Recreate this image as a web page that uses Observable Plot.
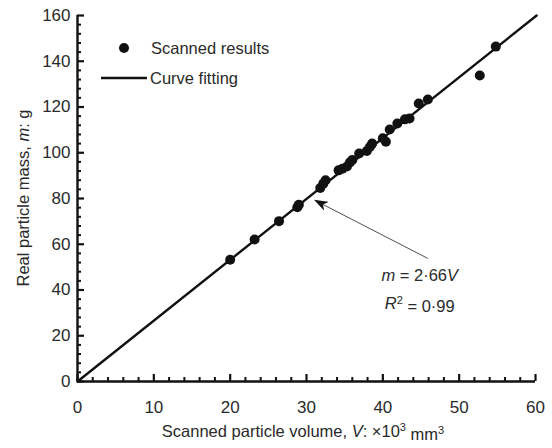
<!DOCTYPE html>
<html>
<head>
<meta charset="utf-8">
<script src="https://cdn.jsdelivr.net/npm/d3@7"></script>
<script src="https://cdn.jsdelivr.net/npm/@observablehq/plot@0.6"></script>
<style>
  html, body { margin: 0; padding: 0; background: #fff; }
  #chart { width: 552px; height: 448px; }
  svg { font-family: "Liberation Sans", Arial, sans-serif; }
</style>
</head>
<body>
<div id="chart"></div>
<script>
// Scanned results (V: x10^3 mm^3, m: g)
const volume = [20.0, 23.2, 26.4, 28.8, 29.0, 31.8, 32.2, 32.5, 34.2, 34.7, 35.3, 35.7, 36.0, 36.9, 37.9, 38.3, 38.6, 40.0, 40.4, 40.9, 41.9, 42.9, 43.5, 44.7, 45.9, 52.7, 54.8];
const mass   = [53.2, 62.1, 70.1, 76.2, 77.3, 84.6, 86.5, 88.0, 92.3, 93.0, 94.0, 95.8, 96.8, 99.7, 100.8, 102.5, 104.0, 106.3, 104.8, 110.2, 112.8, 114.6, 115.0, 121.5, 123.3, 133.8, 146.4];
// Curve fitting m = 2.66 V
const slope = 2.66;
const fitV = [0, 60.15];
// Tick values
const xMajor = [0, 10, 20, 30, 40, 50, 60];
const xMinor = [2, 4, 6, 8, 12, 14, 16, 18, 22, 24, 26, 28, 32, 34, 36, 38, 42, 44, 46, 48, 52, 54, 56, 58];
const yMajor = [0, 20, 40, 60, 80, 100, 120, 140, 160];
const yMinor = [4, 8, 12, 16, 24, 28, 32, 36, 44, 48, 52, 56, 64, 68, 72, 76, 84, 88, 92, 96, 104, 108, 112, 116, 124, 128, 132, 136, 144, 148, 152, 156];
// Annotation arrow (tail -> tip) and equation anchor
const arrowFrom = [45.9, 53.8];
const arrowTo = [31.1, 79.2];
const eqAnchor = [44.9, 46.2];

const points = volume.map((v, i) => ({V: v, m: mass[i]}));
const fit = fitV.map(v => ({V: v, m: slope * v}));
const arrows = [{x1: arrowFrom[0], y1: arrowFrom[1], x2: arrowTo[0], y2: arrowTo[1]}];

const ink = "#111";
const textColor = "#2a2a2a";
const FS = 16.5;

const plot = Plot.plot({
  width: 552,
  height: 448,
  marginLeft: 77,
  marginRight: 17,
  marginTop: 15,
  marginBottom: 67,
  style: {fontFamily: "'Liberation Sans', Arial, sans-serif", fontSize: FS + "px", background: "#fff"},
  x: {domain: [0, 60]},
  y: {domain: [0, 160]},
  marks: [
    // inward tick marks
    Plot.ruleX(xMinor, {x: d => d, y1: () => 0, y2: () => 0, insetTop: -4, stroke: ink, strokeWidth: 2}),
    Plot.ruleX(xMajor, {x: d => d, y1: () => 0, y2: () => 0, insetTop: -7, stroke: ink, strokeWidth: 2.2}),
    Plot.ruleY(yMinor, {y: d => d, x1: () => 0, x2: () => 0, insetRight: -4, stroke: ink, strokeWidth: 2}),
    Plot.ruleY(yMajor, {y: d => d, x1: () => 0, x2: () => 0, insetRight: -7, stroke: ink, strokeWidth: 2.2}),
    Plot.axisX({ticks: xMajor, tickSize: 0, tickPadding: 19, fill: textColor, label: null}),
    Plot.axisY({ticks: yMajor, tickSize: 0, tickPadding: 7, fill: textColor, label: null}),
    Plot.line(fit, {x: "V", y: "m", stroke: ink, strokeWidth: 2.4}),
    Plot.dot(points, {x: "V", y: "m", r: 5, fill: ink, stroke: "none"}),
    Plot.link(arrows, {x1: "x1", y1: "y1", x2: "x2", y2: "y2", stroke: "#222", strokeWidth: 0.8, className: "anno-arrow"}),
    Plot.ruleX([0], {stroke: ink, strokeWidth: 2.4}),
    Plot.ruleY([0], {stroke: ink, strokeWidth: 2.4})
  ]
});

document.getElementById("chart").appendChild(plot);

const svg = d3.select(plot);
svg.selectAll("[aria-label='x-axis tick label'], [aria-label='y-axis tick label']").style("font-size", "17px");

const sx = plot.scale("x"), sy = plot.scale("y");
const x0 = sx.apply(0), x60 = sx.apply(60);
const yTop = sy.apply(160), yBot = sy.apply(0);

// Arrowhead marker
const defs = svg.append("defs");
defs.append("marker")
  .attr("id", "ahead").attr("viewBox", "0 0 14 10").attr("refX", 13).attr("refY", 5)
  .attr("markerWidth", 14).attr("markerHeight", 10).attr("markerUnits", "userSpaceOnUse")
  .attr("orient", "auto")
  .append("path").attr("d", "M0,0L14,5L0,10L4,5Z").attr("fill", ink);
svg.selectAll(".anno-arrow path").attr("marker-end", "url(#ahead)");

const addText = (sel) => sel.style("font-size", FS + "px").attr("fill", textColor);

// Legend
const lg = svg.append("g");
lg.append("circle").attr("cx", 124).attr("cy", 48).attr("r", 5).attr("fill", ink);
addText(lg.append("text").attr("x", 151).attr("y", 48).attr("dy", "0.35em").attr("text-anchor", "start").text("Scanned results"));
lg.append("line").attr("x1", 101).attr("x2", 147).attr("y1", 78).attr("y2", 78).attr("stroke", ink).attr("stroke-width", 2.4);
addText(lg.append("text").attr("x", 150).attr("y", 78).attr("dy", "0.35em").attr("text-anchor", "start").text("Curve fitting"));

// Equation
const ex = sx.apply(eqAnchor[0]), ey = sy.apply(eqAnchor[1]);
const eq1 = addText(svg.append("text").attr("x", ex).attr("y", ey).attr("dy", "0.35em").attr("text-anchor", "middle"));
eq1.append("tspan").attr("font-style", "italic").text("m");
eq1.append("tspan").text(" = 2·66");
eq1.append("tspan").attr("font-style", "italic").text("V");
const eq2 = addText(svg.append("text").attr("x", ex).attr("y", ey + 28).attr("dy", "0.35em").attr("text-anchor", "middle"));
eq2.append("tspan").attr("font-style", "italic").text("R");
eq2.append("tspan").style("font-size", "11px").attr("dy", "-0.5em").text("2");
eq2.append("tspan").attr("dy", "0.5em").text(" = 0·99");

// Axis titles
const xt = addText(svg.append("text").attr("x", (x0 + x60) / 2 - 3).attr("y", 431).attr("dy", "0.35em").attr("text-anchor", "middle"));
xt.append("tspan").text("Scanned particle volume, ");
xt.append("tspan").attr("font-style", "italic").text("V");
xt.append("tspan").text(": ×10");
xt.append("tspan").style("font-size", "11px").attr("dy", "-0.55em").text("3");
xt.append("tspan").attr("dy", "0.55em").text(" mm");
xt.append("tspan").style("font-size", "11px").attr("dy", "-0.55em").text("3");

const yt = addText(svg.append("text").attr("transform", `translate(23,${(yTop + yBot) / 2}) rotate(-90)`).attr("dy", "0.35em").attr("text-anchor", "middle"));
yt.append("tspan").text("Real particle mass, ");
yt.append("tspan").attr("font-style", "italic").text("m");
yt.append("tspan").text(": g");
</script>
</body>
</html>
